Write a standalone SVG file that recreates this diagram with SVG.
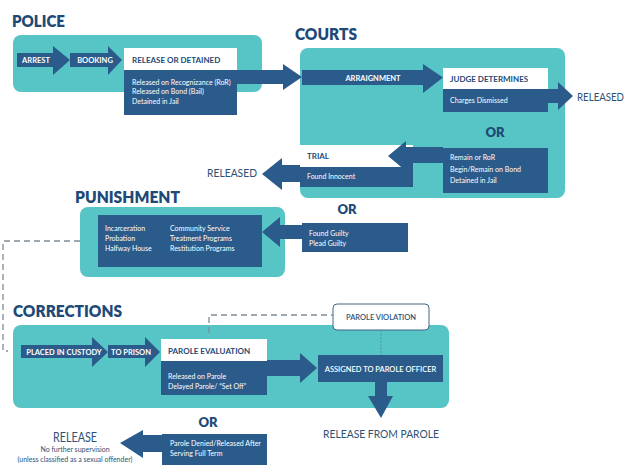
<svg xmlns="http://www.w3.org/2000/svg" width="630" height="465" viewBox="0 0 630 465">
<style>
  text { font-family: Lato, "Open Sans", "Liberation Sans", sans-serif; }
  .title { font-size: 16px; font-weight: 800; fill: #1e4a77; }
  .panel { fill: #57c4c5; }
  .dark { fill: #2b5b8b; }
  .white { fill: #ffffff; }
  .lab { font-size: 7.5px; font-weight: 700; fill: #ffffff; }
  .head { font-size: 8px; font-weight: 700; fill: #1e4a77; }
  .item { font-size: 7px; fill: #ffffff; }
  .rel { font-size: 11.5px; fill: #2d5075; }
  .or { font-size: 13px; font-weight: 800; fill: #1e4a77; text-anchor: middle; }
  .dash { fill: none; stroke: #7d8c98; stroke-width: 1.3; stroke-dasharray: 6 4; }
  .dot { fill: none; stroke: #4a8a9a; stroke-width: 0.8; stroke-dasharray: 2 1.5; }
</style>
<rect width="630" height="465" fill="#ffffff"/>

<!-- POLICE -->
<g id="police">
  <text class="title" x="12" y="27" textLength="53" lengthAdjust="spacingAndGlyphs">POLICE</text>
  <rect class="panel" x="13" y="35" width="249" height="57" rx="8"/>
</g>
<g id="arrest">
  <polygon class="dark" points="17,53 53,53 53,46 70,60 53,75 53,67 17,67"/>
  <text class="lab" x="36" y="63" text-anchor="middle">ARREST</text>
</g>
<g id="booking">
  <polygon class="dark" points="70,53 108,53 108,46 122,60 108,75 108,67 70,67"/>
  <text class="lab" x="95" y="63" text-anchor="middle">BOOKING</text>
</g>
<g id="release-or-detained">
  <rect class="white" x="124" y="48" width="113" height="22"/>
  <text class="head" x="132" y="62.5">RELEASE OR DETAINED</text>
  <rect class="dark" x="124" y="70" width="113" height="45"/>
  <text class="item" x="132" y="84.5">Released on Recognizance (RoR)</text>
  <text class="item" x="132" y="94">Released on Bond (Bail)</text>
  <text class="item" x="132" y="104">Detained in Jail</text>
</g>

<!-- COURTS -->
<g id="courts">
  <text class="title" x="295" y="40" textLength="62" lengthAdjust="spacingAndGlyphs">COURTS</text>
  <rect class="panel" x="300" y="48" width="265" height="150" rx="8"/>
</g>
<g id="arraignment">
  <polygon class="dark" points="302,70 423,70 423,64 443,77.5 423,93 423,85 302,85"/>
  <text class="lab" x="373" y="81" text-anchor="middle">ARRAIGNMENT</text>
</g>
<g id="judge-determines">
  <rect class="white" x="443" y="68" width="105" height="21"/>
  <text class="head" x="450" y="82">JUDGE DETERMINES</text>
  <rect class="dark" x="443" y="89" width="105" height="23"/>
  <text class="item" x="450" y="103">Charges Dismissed</text>
</g>
<g id="released-1">
  <text x="577" y="101" style="font-size:11px;fill:#2d5075" textLength="47" lengthAdjust="spacingAndGlyphs">RELEASED</text>
</g>
<g id="or-1"><text class="or" x="495" y="137">OR</text></g>
<g id="remain">
  <rect class="dark" x="443" y="148" width="105" height="45"/>
  <text class="item" x="450" y="160">Remain or RoR</text>
  <text class="item" x="450" y="171.5">Begin/Remain on Bond</text>
  <text class="item" x="450" y="183">Detained in Jail</text>
</g>
<g id="trial">
  <rect class="white" x="300" y="145" width="113" height="22"/>
  <text class="head" x="307" y="159">TRIAL</text>
  <rect class="dark" x="300" y="167" width="113" height="20"/>
  <text class="item" x="307" y="179">Found Innocent</text>
</g>
<g id="released-2">
  <text class="rel" x="207" y="177" textLength="50" lengthAdjust="spacingAndGlyphs">RELEASED</text>
</g>

<!-- PUNISHMENT -->
<g id="punishment">
  <text class="title" x="75" y="203" textLength="105" lengthAdjust="spacingAndGlyphs">PUNISHMENT</text>
  <rect class="panel" x="80" y="207" width="205" height="70" rx="8"/>
  <rect class="dark" x="98" y="215" width="164" height="52"/>
  <text class="item" x="105" y="231">Incarceration</text>
  <text class="item" x="105" y="241">Probation</text>
  <text class="item" x="105" y="251">Halfway House</text>
  <text class="item" x="170" y="231">Community Service</text>
  <text class="item" x="170" y="241">Treatment Programs</text>
  <text class="item" x="170" y="251">Restitution Programs</text>
</g>
<g id="or-2"><text class="or" x="347" y="214">OR</text></g>
<g id="guilty">
  <rect class="dark" x="302" y="223" width="106" height="29"/>
  <text class="item" x="309" y="236">Found Guilty</text>
  <text class="item" x="309" y="245.5">Plead Guilty</text>
</g>

<!-- CORRECTIONS -->
<g id="corrections">
  <text class="title" x="13" y="317" textLength="109" lengthAdjust="spacingAndGlyphs">CORRECTIONS</text>
  <rect class="panel" x="13" y="325" width="436" height="83" rx="8"/>
</g>
<g id="placed-in-custody">
  <polygon class="dark" points="21,345 92,345 92,337 108,352 92,367 92,358 21,358"/>
  <text class="lab" x="64" y="354.5" text-anchor="middle">PLACED IN CUSTODY</text>
</g>
<g id="to-prison">
  <polygon class="dark" points="108,345 145,345 145,337 160,352 145,367 145,358 108,358"/>
  <text class="lab" x="131" y="354.5" text-anchor="middle">TO PRISON</text>
</g>
<g id="parole-evaluation">
  <rect class="white" x="161" y="339" width="106" height="22"/>
  <text class="head" x="168" y="353.5">PAROLE EVALUATION</text>
  <rect class="dark" x="161" y="361" width="106" height="34"/>
  <text class="item" x="168" y="379">Released on Parole</text>
  <text class="item" x="168" y="389">Delayed Parole/ “Set Off”</text>
</g>
<g id="parole-officer">
  <rect class="dark" x="318" y="355" width="125" height="27"/>
  <text class="lab" x="380.5" y="371.5" text-anchor="middle" style="font-weight:600">ASSIGNED TO PAROLE OFFICER</text>
</g>
<g id="parole-violation">
  <rect x="333" y="304" width="96" height="26" rx="4" fill="#ffffff" stroke="#3f6684" stroke-width="1"/>
  <text x="381" y="320" text-anchor="middle" style="font-size:7.5px;font-weight:600;fill:#2d5075">PAROLE VIOLATION</text>
</g>
<g id="release-from-parole">
  <text class="rel" x="323" y="438" textLength="116" lengthAdjust="spacingAndGlyphs">RELEASE FROM PAROLE</text>
</g>
<g id="or-3"><text class="or" x="208" y="427">OR</text></g>
<g id="parole-denied">
  <rect class="dark" x="162" y="434" width="105" height="36"/>
  <text class="item" x="170" y="445.5">Parole Denied/Released After</text>
  <text class="item" x="170" y="456">Serving Full Term</text>
</g>
<g id="release">
  <text x="53" y="442" style="font-size:12.5px;fill:#2d5075" textLength="44" lengthAdjust="spacingAndGlyphs">RELEASE</text>
  <text x="75" y="452" text-anchor="middle" style="font-size:7px;fill:#2d5075">No further supervision</text>
  <text x="75" y="461.5" text-anchor="middle" style="font-size:7px;fill:#2d5075">(unless classified as a sexual offender)</text>
</g>

<!-- connectors -->
<g id="connectors">
  <polygon class="dark" points="237,70 283,70 283,64 302,77 283,90 283,84 237,84"/>
  <polygon class="dark" points="548,89 558,89 558,82 573,96 558,110 558,103 548,103"/>
  <polygon class="dark" points="388,156 406,141 406,147 443,147 443,163 413,163 413,171 406,171"/>
  <polygon class="dark" points="300,165 282,165 282,158 262,174 282,190 282,182 300,182"/>
  <polygon class="dark" points="302,225 280,225 280,217 262,232 280,247 280,239 302,239"/>
  <polygon class="dark" points="267,360 300,360 300,353 317,368 300,383 300,376 267,376"/>
  <polygon class="dark" points="375,382 387,382 387,396 393,396 381,418 368,396 375,396"/>
  <polygon class="dark" points="162,435 143,435 143,430 120,443 143,458 143,452 162,452"/>
  <path class="dash" d="M80,241 H3 V351 H8"/>
  <path class="dash" d="M209,333 V315 H333"/>
  <path class="dot" d="M381,330 V355"/>
</g>
</svg>
